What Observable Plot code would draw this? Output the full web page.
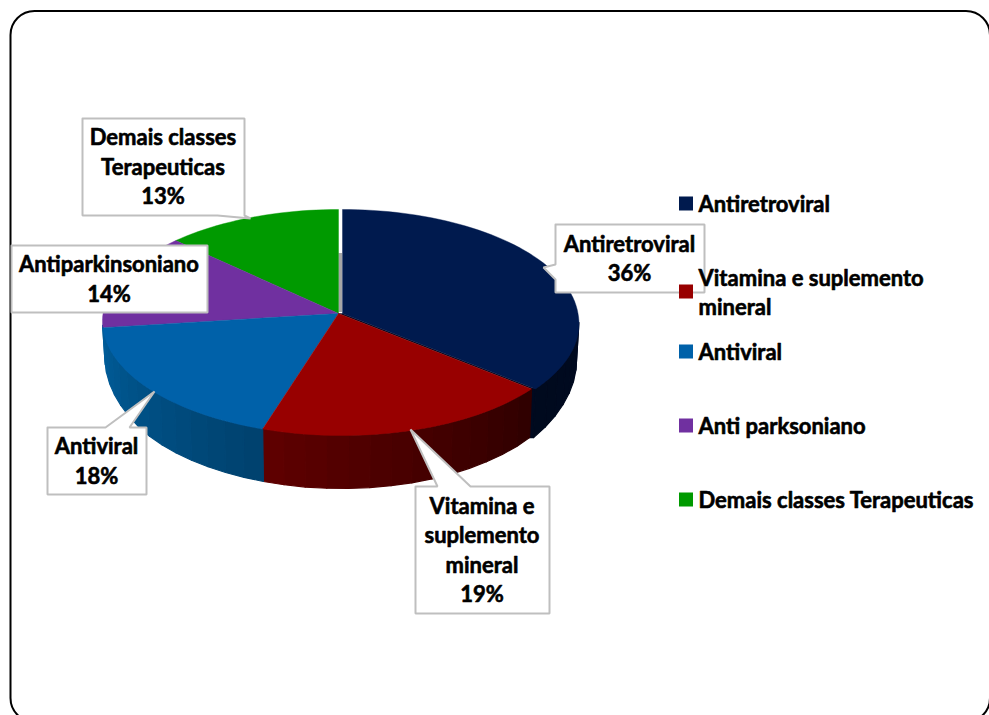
<!DOCTYPE html>
<html lang="pt">
<head>
<meta charset="utf-8">
<title>Classes terapêuticas</title>
<script src="https://cdn.jsdelivr.net/npm/d3@7"></script>
<script src="https://cdn.jsdelivr.net/npm/@observablehq/plot@0.6"></script>
<style>
html,body{margin:0;padding:0;background:#fff;overflow:hidden}
g[aria-label="sombra"]{filter:blur(1.6px)}
g[aria-label="rotulos"],g[aria-label="legenda"]{filter:blur(.35px)}
</style>
</head>
<body>
<div id="chart"></div>
<script>
// ---- data ----
const categories = ["Antiretroviral", "Vitamina e suplemento mineral", "Antiviral", "Anti parksoniano", "Demais classes Terapeuticas"];
const shares = [36, 19, 18, 14, 13];
const sliceLabels = ["Antiretroviral", "Vitamina e\nsuplemento\nmineral", "Antiviral", "Antiparkinsoniano", "Demais classes\nTerapeuticas"];
const legendLabels = ["Antiretroviral", "Vitamina e suplemento\nmineral", "Antiviral", "Anti parksoniano", "Demais classes Terapeuticas"];

// ---- styles and layout ----
const topColors = ["#001a4e", "#980000", "#0061a9", "#7030a0", "#009a00"];
const sideFrom = ["#000a20", "#300000", "#00426f", "#005c98", "#005c98"];
const sideTo = ["#000a1e", "#5e0000", "#005c98", "#005c98", "#005c98"];
const pie = {cx: 338, cy: 313, A: 235.5, B: 112.3, k: 0.0796, shrink: 0.99, skew: 0.025};
const explode = [4, 0, 0, 0, 0];
const depth = d3.scaleLinear().domain([0, 0.4, 0.65, 1]).range([34, 42.5, 49, 53]);
const boxes = [
  {x1: 555, x2: 704, y1: 224, y2: 292, pointer: [[555, 264], [543, 267], [555, 279]], side: "left"},
  {x1: 415, x2: 549, y1: 486, y2: 613, pointer: [[437, 486], [410, 429], [470, 486]], side: "top"},
  {x1: 47, x2: 146, y1: 427, y2: 494, pointer: [[105, 427], [154, 391], [129, 427]], side: "top"},
  {x1: 11, x2: 207, y1: 245, y2: 312, pointer: [], side: "none"},
  {x1: 82, x2: 244, y1: 118, y2: 215, pointer: [[217, 215], [250, 218], [244, 215]], side: "bottom"}
];
const legendY = [204, 292, 352, 426, 500];
const legendX = 698, swatch = {x1: 679, x2: 693};
const fontFamily = "Lato, Carlito, sans-serif";
const fontSize = 22, lineHeight = 1.34;

// ---- geometry derived from the values ----
const rad = Math.PI / 180;
const total = d3.sum(shares);
let acc = 0;
const slices = shares.map((v, i) => {
  const a0 = acc / total * 360; acc += v; const a1 = acc / total * 360;
  return {i, a0, a1};
});
function rim(deg, dx = 0) {
  const s = Math.sin(deg * rad), c = Math.cos(deg * rad), w = 1 + pie.k * c;
  const dy = -pie.B * c / w;
  return [pie.cx + dx + pie.A * s / w + pie.skew * Math.max(0, dy), pie.cy + dy];
}
function rimBottom(deg, dx = 0) {
  const [x, y] = rim(deg);
  const c = Math.max(0, -Math.cos(deg * rad));
  return [pie.cx + dx + (x - pie.cx) * pie.shrink, y + depth(c)];
}
function polygonRows(store, key, color, pts) {
  pts.forEach(p => store.push({key, color, x: p[0], y: p[1]}));
  store.push({key, color, x: pts[0][0], y: pts[0][1]});
}
const wallPolys = [], topPolys = [];
// side wall, as shaded strips
const wallStart = 94.6, wallEnd = 264;
const shadow = [];
// dark fill of the gap left by the pulled-out slice
const a1Navy = slices[0].a1;
polygonRows(wallPolys, "gap-side", "#000a20", [rim(a1Navy, 0), rim(a1Navy, explode[0]), rimBottom(a1Navy, explode[0]), rimBottom(a1Navy, -1)]);
slices.forEach(({i, a0, a1}) => {
  const lo = Math.max(a0, wallStart), hi = i === 2 ? wallEnd : Math.min(a1, wallEnd);
  if (hi <= lo) return;
  const mix = d3.interpolateRgb(sideFrom[i], sideTo[i]);
  const n = Math.ceil((hi - lo) / 5);
  for (let j = 0; j < n; j++) {
    const t0 = lo + (hi - lo) * j / n, t1 = lo + (hi - lo) * (j + 1) / n;
    const c = mix(j / Math.max(1, n - 1));
    polygonRows(wallPolys, `side-${i}-${j}`, c, [rim(t0, explode[i]), rim(t1, explode[i]), rimBottom(t1, explode[i]), rimBottom(t0, explode[i])]);
  }
});
for (let t = wallStart; t <= wallEnd; t += 3) {
  const dx = t < a1Navy ? explode[0] : 0;
  const [x, y] = rimBottom(t, dx);
  shadow.push({x: x + (t < 180 ? 2 : -1), y: y + 2});
}
// top faces
polygonRows(topPolys, "gap-top", "#0a0a20", [[pie.cx, pie.cy], [pie.cx + explode[0], pie.cy], rim(a1Navy, explode[0]), rim(a1Navy, 0)]);
[...slices].reverse().forEach(({i, a0, a1}) => {
  const pts = [[pie.cx + explode[i], pie.cy]];
  const n = Math.ceil((a1 - a0) / 2);
  for (let j = 0; j <= n; j++) pts.push(rim(a0 + (a1 - a0) * j / n, explode[i]));
  polygonRows(topPolys, `top-${i}`, topColors[i], pts);
});
// inner wall sliver
const sliver = [{x1: 338.5, x2: 342, y1: 253, y2: 312}];
// callout boxes
const boxPts = [];
boxes.forEach((b, i) => {
  let ring;
  const P = b.pointer;
  if (b.side === "left") ring = [[b.x1, b.y1], [b.x2, b.y1], [b.x2, b.y2], [b.x1, b.y2], ...P.slice().reverse()];
  else if (b.side === "top") ring = [[b.x1, b.y1], ...P, [b.x2, b.y1], [b.x2, b.y2], [b.x1, b.y2]];
  else if (b.side === "bottom") ring = [[b.x1, b.y1], [b.x2, b.y1], [b.x2, b.y2], P[1], P[0], [b.x1, b.y2]];
  else ring = [[b.x1, b.y1], [b.x2, b.y1], [b.x2, b.y2], [b.x1, b.y2]];
  ring.forEach(p => boxPts.push({k: i, x: p[0], y: p[1]}));
  boxPts.push({k: i, x: ring[0][0], y: ring[0][1]});
});
const labelRows = shares.map((v, i) => ({
  text: `${sliceLabels[i]}\n${v}%`,
  x: (boxes[i].x1 + boxes[i].x2) / 2 - 0.5,
  y: (boxes[i].y1 + boxes[i].y2) / 2 - 1.5
}));
const legendRows = categories.map((c, i) => ({c, label: legendLabels[i], y: legendY[i], color: topColors[i]}));

const textStyle = {fontFamily, fontSize, fontWeight: 700, fill: "#000", stroke: "#000", strokeWidth: 0.6, lineHeight, lineAnchor: "middle"};
const plot = Plot.plot({
  width: 989, height: 715,
  margin: 0,
  x: {domain: [0, 989], range: [0, 989], axis: null},
  y: {domain: [0, 715], range: [0, 715], axis: null},
  color: {type: "identity"},
  style: {background: "#fff", display: "block"},
  marks: [
    Plot.rect([{x1: 10.5, x2: 990, y1: 11, y2: 722}], {x1: "x1", x2: "x2", y1: "y1", y2: "y2", rx: 24, fill: "none", stroke: "#000", strokeWidth: 2}),
    Plot.line(shadow, {x: "x", y: "y", stroke: "#666", strokeWidth: 3.5, strokeOpacity: 0.8, ariaLabel: "sombra"}),
    Plot.rect(sliver, {x1: "x1", x2: "x2", y1: "y1", y2: "y2", fill: "#a6a6a6"}),
    Plot.line(wallPolys, {x: "x", y: "y", z: "key", fill: "color", stroke: "color", strokeWidth: 1.2}),
    Plot.line(topPolys, {x: "x", y: "y", z: "key", fill: "color", stroke: "color", strokeWidth: 0.4}),
    Plot.line(boxPts, {x: "x", y: "y", z: "k", fill: "#fff", stroke: "#bfbfbf", strokeWidth: 2, strokeLinejoin: "miter"}),
    Plot.text(labelRows, {...textStyle, x: "x", y: "y", text: "text", textAnchor: "middle", ariaLabel: "rotulos"}),
    Plot.rect(legendRows, {x1: swatch.x1, x2: swatch.x2, y1: d => d.y - 7.5, y2: d => d.y + 6.5, fill: "color"}),
    Plot.text(legendRows, {...textStyle, x: legendX, y: d => d.y - 1.5, text: "label", textAnchor: "start", ariaLabel: "legenda"})
  ]
});
document.getElementById("chart").appendChild(plot);
</script>
</body>
</html>
